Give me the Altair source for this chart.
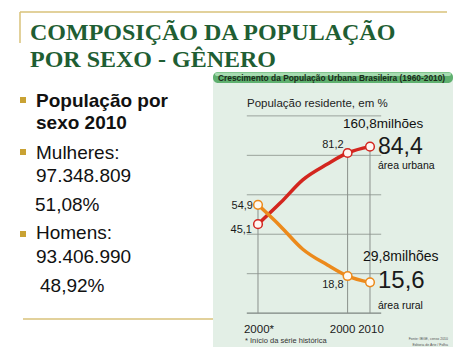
import altair as alt
import pandas as pd

# ---- data ----
years = [1960, 1970, 1980, 1991, 2000, 2010]
urban = [45.1, 55.9, 67.6, 75.6, 81.2, 84.4]
rural = [54.9, 44.1, 32.4, 24.4, 18.8, 15.6]
marker_years = [1960, 2000, 2010]
urban_marks = [45.1, 81.2, 84.4]
rural_marks = [54.9, 18.8, 15.6]
tick_labels = ["2000*", "2000", "2010"]
grid_values = [20, 40, 60, 80, 100]

title_lines = ["COMPOSIÇÃO DA POPULAÇÃO", "POR SEXO - GÊNERO"]
bullet_lines = ["População por", "sexo 2010", "Mulheres:", "97.348.809", "51,08%",
                "Homens:", "93.406.990", "48,92%"]

W, H = 458, 339
XS = alt.Scale(domain=[1848.39, 2052.86], nice=False, zero=False)
YS = alt.Scale(domain=[-13.12, 154.70], nice=False, zero=False)

RED = "#d3261f"
ORANGE = "#ec8a1c"
GOLD = "#d9c27a"
TITLE_GREEN = "#1f5e33"
SANS = "Liberation Sans, Arial"

def fmt(v):
    return f"{v:.1f}".replace(".", ",")

one = pd.DataFrame({"a": [0]})

def txt(text, x, y, size, font=SANS, weight="normal", color="#111", align="left", baseline="alphabetic"):
    return alt.Chart(pd.DataFrame({"t": [text]})).mark_text(
        font=font, fontSize=size, fontWeight=weight, color=color, align=align, baseline=baseline
    ).encode(x=alt.value(x), y=alt.value(y), text="t:N")

def box(x, x2, y, y2, color, radius=0):
    return alt.Chart(one).mark_rect(color=color, cornerRadius=radius).encode(
        x=alt.value(x), x2=alt.value(x2), y=alt.value(y), y2=alt.value(y2))

layers = []

# slide decorations
layers.append(alt.Chart(one).mark_rule(color=GOLD, strokeWidth=1.5).encode(
    x=alt.value(12), x2=alt.value(439), y=alt.value(4)))
layers.append(alt.Chart(one).mark_rule(color=GOLD, strokeWidth=1.5).encode(
    x=alt.value(12), y=alt.value(4), y2=alt.value(35)))
layers.append(alt.Chart(one).mark_rule(color=GOLD, strokeWidth=1.5).encode(
    x=alt.value(15), x2=alt.value(205), y=alt.value(311)))

# slide title
layers.append(txt(title_lines[0], 22, 32, 24, font="Liberation Serif", weight="bold", color=TITLE_GREEN))
layers.append(txt(title_lines[1], 22, 59, 24, font="Liberation Serif", weight="bold", color=TITLE_GREEN))

# bullets
for by in [92, 144, 226]:
    layers.append(box(12, 18, by - 3, by + 3, "#c9a233"))
bpos = [(28, 99, "bold"), (28, 121, "bold"), (28, 151, "normal"), (28, 174, "normal"),
        (27, 203, "normal"), (28, 231, "normal"), (28, 255, "normal"), (32, 284, "normal")]
for s, (bx, by, w) in zip(bullet_lines, bpos):
    layers.append(txt(s, bx, by, 19, weight=w, color="#111"))

# chart panel
layers.append(box(205, 445, 69, 347, "#e3efe6"))
layers.append(box(205, 445, 64, 75, "#5fb06f", radius=5))
layers.append(box(207, 443, 64.5, 68, "#a6dbb0", radius=3))
layers.append(txt("Crescimento da População Urbana Brasileira (1960-2010)", 210, 73, 8.4,
                  weight="bold", color="#1a2a1a"))
layers.append(txt("População residente, em %", 239, 99, 11.5, color="#222"))

# gridlines
gdf = pd.DataFrame({"g": grid_values, "x1": [1955] * len(grid_values), "x2": [2015] * len(grid_values)})
layers.append(alt.Chart(gdf).mark_rule(color="#9aa39c", strokeWidth=1).encode(
    x=alt.X("x1:Q", scale=XS, axis=None), x2="x2:Q", y=alt.Y("g:Q", scale=YS, axis=None)))
adf = pd.DataFrame({"g": [0], "x1": [1955], "x2": [2015]})
layers.append(alt.Chart(adf).mark_rule(color="#7d8580", strokeWidth=1.2).encode(
    x=alt.X("x1:Q", scale=XS, axis=None), x2="x2:Q", y=alt.Y("g:Q", scale=YS, axis=None)))

# drop lines
top_vals = [max(u, r) for u, r in zip(urban_marks, rural_marks)]
ddf = pd.DataFrame({"year": marker_years, "top": top_vals, "base": [0] * len(marker_years)})
layers.append(alt.Chart(ddf).mark_rule(color="#8a918c", strokeWidth=1).encode(
    x=alt.X("year:Q", scale=XS, axis=None), y=alt.Y("top:Q", scale=YS, axis=None), y2="base:Q"))

# lines
ldf = pd.DataFrame({"year": years, "urban": urban, "rural": rural})
layers.append(alt.Chart(ldf).mark_line(color=RED, strokeWidth=3.5, interpolate="monotone").encode(
    x=alt.X("year:Q", scale=XS, axis=None), y=alt.Y("urban:Q", scale=YS, axis=None)))
layers.append(alt.Chart(ldf).mark_line(color=ORANGE, strokeWidth=3.5, interpolate="monotone").encode(
    x=alt.X("year:Q", scale=XS, axis=None), y=alt.Y("rural:Q", scale=YS, axis=None)))

# markers
mdf = pd.DataFrame({"year": marker_years, "urban": urban_marks, "rural": rural_marks})
layers.append(alt.Chart(mdf).mark_point(shape="circle", size=75, filled=True, fill="#fff6f2",
                                        stroke=RED, strokeWidth=1.5, opacity=1).encode(
    x=alt.X("year:Q", scale=XS, axis=None), y=alt.Y("urban:Q", scale=YS, axis=None)))
layers.append(alt.Chart(mdf).mark_point(shape="circle", size=75, filled=True, fill="#fffaf2",
                                        stroke=ORANGE, strokeWidth=1.5, opacity=1).encode(
    x=alt.X("year:Q", scale=XS, axis=None), y=alt.Y("rural:Q", scale=YS, axis=None)))

# value labels
def vlabel(year, value, dx, dy, size, align):
    d = pd.DataFrame({"year": [year], "v": [value], "t": [fmt(value)]})
    return alt.Chart(d).mark_text(font=SANS, fontSize=size, color="#1a1a1a",
                                  align=align, baseline="middle", dx=dx, dy=dy).encode(
        x=alt.X("year:Q", scale=XS, axis=None), y=alt.Y("v:Q", scale=YS, axis=None), text="t:N")

layers.append(vlabel(marker_years[0], rural_marks[0], -5, 1, 11, "right"))
layers.append(vlabel(marker_years[0], urban_marks[0], -6, 6, 11, "right"))
layers.append(vlabel(marker_years[1], urban_marks[1], -4, -8, 11, "right"))
layers.append(vlabel(marker_years[1], rural_marks[1], -4, 9, 11, "right"))
layers.append(vlabel(marker_years[2], urban_marks[2], 8, 0, 23, "left"))
layers.append(vlabel(marker_years[2], rural_marks[2], 8, -1, 24, "left"))

layers.append(txt("160,8milhões", 335, 116, 13.5, baseline="middle"))
layers.append(txt("área urbana", 370, 158, 10.5, baseline="middle"))
layers.append(txt("29,8milhões", 355, 249, 14, baseline="middle"))
layers.append(txt("área rural", 370, 298, 10.5, baseline="middle"))

# x tick labels
for yr, lab, dx in zip(marker_years, tick_labels, [1, -5, 1]):
    tdf = pd.DataFrame({"year": [yr], "t": [lab]})
    layers.append(alt.Chart(tdf).mark_text(font=SANS, fontSize=11.5, color="#1a1a1a", baseline="middle",
                                           dx=dx).encode(
        x=alt.X("year:Q", scale=XS, axis=None), y=alt.value(322), text="t:N"))
layers.append(txt("* Início da série histórica", 237, 333, 7.5, color="#333", baseline="middle"))
layers.append(txt("Fonte: IBGE, censo 2010", 440, 331, 3.5, color="#555", align="right", baseline="middle"))
layers.append(txt("Editoria de Arte / Folha", 440, 337, 3.5, color="#555", align="right", baseline="middle"))

chart = alt.layer(*layers).properties(
    width=W, height=H, padding=0,
    autosize=alt.AutoSizeParams(type="fit", contains="padding"),
    background="white",
).configure_view(stroke=None)

chart.save("out.html", embed_options={"renderer": "svg", "actions": False})
